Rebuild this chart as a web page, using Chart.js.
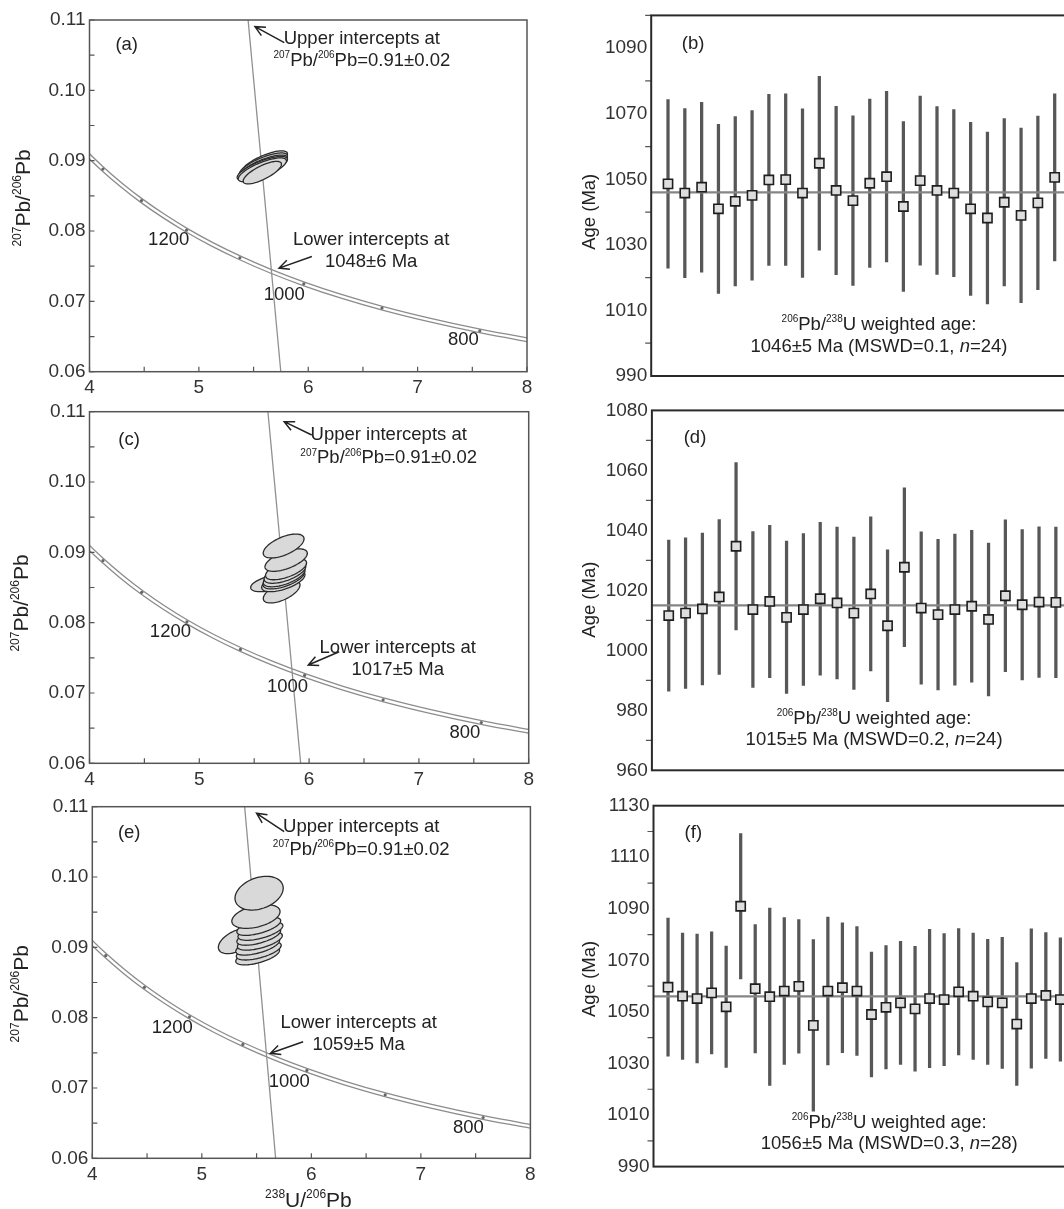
<!DOCTYPE html>
<html>
<head>
<meta charset="utf-8">
<script src="https://cdn.jsdelivr.net/npm/chart.js@4.4.1/dist/chart.umd.min.js"></script>
<style>
html, body { margin: 0; padding: 0; background: #fff; }
#wrap { position: relative; width: 1064px; height: 1209px; overflow: hidden; background: #fff; }
canvas { position: absolute; }
</style>
</head>
<body>
<div id="wrap">
<canvas id="pa" width="560" height="400" style="left:0;top:0"></canvas>
<canvas id="pc" width="560" height="400" style="left:0;top:390px"></canvas>
<canvas id="pe" width="560" height="424" style="left:0;top:785px"></canvas>
<canvas id="pb" width="620" height="400" style="left:540px;top:0"></canvas>
<canvas id="pd" width="620" height="400" style="left:540px;top:395px"></canvas>
<canvas id="pf" width="620" height="419" style="left:540px;top:790px"></canvas>
</div>
<script>
// concordia curve (Tera-Wasserburg), ages in Ma
var concAge = [1500, 1450, 1400, 1350, 1300, 1250, 1200, 1150, 1100, 1050, 1000, 950, 900, 850, 800, 750];
var concX = [3.8168, 3.9645, 4.1226, 4.2927, 4.4756, 4.6733, 4.8875, 5.1205, 5.3749, 5.6530, 5.9593, 6.2979, 6.6743, 7.0950, 7.5684, 8.1049];
var concY = [0.09360, 0.09116, 0.08881, 0.08653, 0.08432, 0.08219, 0.08012, 0.07812, 0.07619, 0.07431, 0.07250, 0.07074, 0.06904, 0.06740, 0.06580, 0.06425];

// discordia lines: x at 207/206 = 0.11 and at 0.06
var discY = [0.11, 0.06];
var discA = [5.450, 5.749];
var discC = [5.625, 5.923];
var discE = [5.391, 5.674];

// error ellipses: [238U/206Pb, 207Pb/206Pb, sx, sy, rho]
var ellA = [
    [5.60, 0.0897, 0.21, 0.0017, 0.75],
    [5.59, 0.0894, 0.22, 0.0017, 0.75],
    [5.59, 0.0891, 0.22, 0.0017, 0.75],
    [5.58, 0.0889, 0.23, 0.0017, 0.75],
    [5.58, 0.0887, 0.22, 0.0017, 0.75],
    [5.58, 0.0883, 0.175, 0.0016, 0.75]
];
var ellC = [
    [5.750, 0.0844, 0.167, 0.0016, 0.6],
    [5.647, 0.0856, 0.179, 0.0012, 0.5],
    [5.765, 0.0859, 0.197, 0.0015, 0.6],
    [5.770, 0.0863, 0.190, 0.0015, 0.6],
    [5.773, 0.0866, 0.190, 0.0015, 0.6],
    [5.780, 0.0871, 0.190, 0.0015, 0.6],
    [5.790, 0.0876, 0.187, 0.0015, 0.6],
    [5.791, 0.0889, 0.193, 0.0016, 0.6],
    [5.768, 0.0909, 0.186, 0.0017, 0.6]
];
var ellE = [
    [5.318, 0.0909, 0.167, 0.0018, 0.5],
    [5.510, 0.0888, 0.200, 0.0013, 0.6],
    [5.520, 0.0895, 0.205, 0.0013, 0.6],
    [5.510, 0.0902, 0.200, 0.0013, 0.6],
    [5.530, 0.0909, 0.205, 0.0013, 0.6],
    [5.520, 0.0916, 0.200, 0.0013, 0.6],
    [5.535, 0.0923, 0.205, 0.0013, 0.6],
    [5.520, 0.0930, 0.200, 0.0013, 0.6],
    [5.494, 0.0944, 0.220, 0.0017, 0.4],
    [5.523, 0.0977, 0.220, 0.0024, 0.3]
];

// 206Pb/238U ages (Ma) and 2s errors
var ageB = [1048.6, 1045.8, 1047.6, 1041.0, 1043.3, 1045.1, 1049.8, 1049.9, 1045.8, 1054.9, 1046.6, 1043.5,
            1048.8, 1050.8, 1041.7, 1049.6, 1046.6, 1045.8, 1041.0, 1038.2, 1043.0, 1039.0, 1042.8, 1050.6];
var errB = [25.7, 25.8, 25.9, 25.8, 25.8, 25.9, 26.1, 26.2, 25.7, 26.5, 25.7, 25.9,
            25.7, 26.0, 25.9, 25.8, 25.6, 25.5, 26.4, 26.2, 25.5, 26.6, 26.5, 25.5];
var meanB = 1046;

var ageD = [1011.6, 1012.4, 1013.8, 1017.8, 1034.7, 1013.6, 1016.3, 1011.0, 1013.6, 1017.2, 1015.8, 1012.4,
            1018.8, 1008.2, 1027.7, 1014.1, 1011.9, 1013.6, 1014.7, 1010.3, 1018.2, 1015.2, 1016.1, 1016.0];
var errD = [25.2, 25.1, 25.3, 25.8, 27.9, 26.0, 25.4, 25.4, 25.3, 25.5, 25.3, 25.4,
            25.7, 25.3, 26.5, 25.4, 25.1, 25.2, 25.3, 25.5, 25.3, 25.1, 25.1, 25.1];
var meanD = 1015;

var ageF = [1059.6, 1056.1, 1055.2, 1057.4, 1052.0, 1091.0, 1059.0, 1055.9, 1058.1, 1059.9, 1044.8, 1058.1, 1059.4, 1058.1,
            1049.0, 1051.8, 1053.5, 1051.2, 1055.2, 1054.8, 1057.8, 1056.1, 1053.9, 1053.5, 1045.3, 1055.2, 1056.4, 1054.8];
var errF = [26.8, 24.5, 25.0, 23.7, 23.5, 28.2, 24.9, 34.4, 28.5, 25.9, 33.3, 28.7, 25.2, 25.0,
            24.2, 23.9, 23.9, 24.2, 26.8, 25.6, 24.5, 24.5, 24.3, 25.4, 23.8, 27.0, 24.4, 23.9];
var meanF = 1056;

var FAM = '"Liberation Sans", Arial, Helvetica, sans-serif';
Chart.defaults.font.family = FAM;
Chart.defaults.color = '#333';

// "{..}" = superscript, "|..|" = italic
function splitRich(s) {
    var out = [], re = /\{([^}]*)\}|\|([^|]*)\||([^{|]+)/g, m;
    while ((m = re.exec(s))) {
        if (m[1] != null) out.push({t: m[1], sup: true});
        else if (m[2] != null) out.push({t: m[2], it: true});
        else out.push({t: m[3]});
    }
    return out;
}

function drawRich(ctx, s, x, y, size, sup) {
    var ps = splitRich(s), w = 0;
    function fnt(p) { return (p.it ? 'italic ' : '') + (p.sup ? sup : size) + 'px ' + FAM; }
    ps.forEach(function(p) { ctx.font = fnt(p); p.w = ctx.measureText(p.t).width; w += p.w; });
    var cx = x - w / 2;
    ctx.textAlign = 'left';
    ctx.textBaseline = 'middle';
    ps.forEach(function(p) {
        ctx.font = fnt(p);
        ctx.fillText(p.t, cx, p.sup ? y - size * 0.3 : y);
        cx += p.w;
    });
}

var decor = {
    id: 'decor',
    afterDatasetsDraw: function(chart, args, o) {
        if (!o.ellipses) return;
        var ctx = chart.ctx, ca = chart.chartArea, xs = chart.scales.x, ys = chart.scales.y;
        ctx.save();
        ctx.beginPath();
        ctx.rect(ca.left, ca.top, ca.right - ca.left, ca.bottom - ca.top);
        ctx.clip();
        o.ellipses.forEach(function(e) {
            var q = Math.sqrt(1 - e[4] * e[4]);
            ctx.beginPath();
            for (var k = 0; k <= 96; k++) {
                var t = k / 96 * 2 * Math.PI;
                var X = xs.getPixelForValue(e[0] + e[2] * Math.cos(t));
                var Y = ys.getPixelForValue(e[1] + e[3] * (e[4] * Math.cos(t) + q * Math.sin(t)));
                if (k === 0) ctx.moveTo(X, Y); else ctx.lineTo(X, Y);
            }
            ctx.closePath();
            ctx.fillStyle = '#d9d9d9';
            ctx.fill();
            ctx.lineWidth = 1.3;
            ctx.strokeStyle = '#2b2b2b';
            ctx.stroke();
        });
        ctx.restore();
    },
    afterDraw: function(chart, args, o) {
        var ctx = chart.ctx, ca = chart.chartArea, xs = chart.scales.x, ys = chart.scales.y;
        ctx.save();
        // tick marks
        ctx.strokeStyle = '#555';
        ctx.lineWidth = 1.2;
        ctx.beginPath();
        if (o.inward) {
            xs.ticks.forEach(function(t) {
                var X = xs.getPixelForValue(t.value);
                ctx.moveTo(X, ca.bottom); ctx.lineTo(X, ca.bottom - 5);
            });
            ys.ticks.forEach(function(t) {
                var Y = ys.getPixelForValue(t.value);
                ctx.moveTo(ca.left, Y); ctx.lineTo(ca.left + 5, Y);
            });
        } else {
            ys.ticks.forEach(function(t) {
                if (t.label !== '') return;
                var Y = ys.getPixelForValue(t.value);
                ctx.moveTo(ca.left - 6, Y); ctx.lineTo(ca.left, Y);
            });
        }
        ctx.stroke();
        // box
        ctx.strokeStyle = o.frameColor;
        ctx.lineWidth = o.frameWidth;
        ctx.strokeRect(ca.left, ca.top, ca.right - ca.left, ca.bottom - ca.top);
        // arrows
        ctx.strokeStyle = '#222';
        ctx.lineWidth = 1.5;
        (o.arrows || []).forEach(function(a) {
            var hx = xs.getPixelForValue(a[0]), hy = ys.getPixelForValue(a[1]);
            var tx = xs.getPixelForValue(a[2]), ty = ys.getPixelForValue(a[3]);
            var ang = Math.atan2(hy - ty, hx - tx);
            ctx.beginPath();
            ctx.moveTo(tx, ty); ctx.lineTo(hx, hy);
            ctx.moveTo(hx - 11 * Math.cos(ang - 0.45), hy - 11 * Math.sin(ang - 0.45));
            ctx.lineTo(hx, hy);
            ctx.lineTo(hx - 11 * Math.cos(ang + 0.45), hy - 11 * Math.sin(ang + 0.45));
            ctx.stroke();
        });
        // text
        ctx.fillStyle = '#222';
        (o.notes || []).forEach(function(n) {
            var X = xs.getPixelForValue(n.x), Y = ys.getPixelForValue(n.y);
            var size = n.size || o.textSize, sup = n.sup || 10;
            if (n.rot) {
                ctx.save();
                ctx.translate(X, Y);
                ctx.rotate(-Math.PI / 2);
                drawRich(ctx, n.s, 0, 0, size, sup);
                ctx.restore();
            } else {
                drawRich(ctx, n.s, X, Y, size, sup);
            }
        });
        ctx.restore();
    }
};
Chart.register(decor);

function concChart(id, pad, yW, xH, disc, ells, notes, arrows) {
    var pts = concX.map(function(x, i) { return {x: x, y: concY[i]}; });
    var marks = pts.filter(function(p, i) { return concAge[i] % 100 === 0; });
    return new Chart(document.getElementById(id), {
        type: 'scatter',
        data: {
            datasets: [
                {data: pts, showLine: true, borderColor: '#8c8c8c', borderWidth: 5, pointRadius: 0,
                 cubicInterpolationMode: 'monotone', order: 4},
                {data: pts, showLine: true, borderColor: '#ffffff', borderWidth: 2.4, pointRadius: 0,
                 cubicInterpolationMode: 'monotone', order: 3},
                {data: marks, pointRadius: 1.6, backgroundColor: '#666', borderWidth: 0, order: 2},
                {data: [{x: disc[0], y: discY[0]}, {x: disc[1], y: discY[1]}], showLine: true,
                 borderColor: '#909090', borderWidth: 1.3, pointRadius: 0, order: 1}
            ]
        },
        options: {
            responsive: false,
            animation: false,
            layout: {padding: pad},
            plugins: {
                legend: {display: false},
                tooltip: {enabled: false},
                decor: {ellipses: ells, notes: notes, arrows: arrows, inward: true,
                        frameColor: '#555', frameWidth: 1.5, textSize: 18.5}
            },
            scales: {
                x: {
                    type: 'linear', min: 4, max: 8,
                    grid: {display: false, drawTicks: false},
                    border: {display: false},
                    ticks: {stepSize: 0.5, autoSkip: false, maxRotation: 0, padding: 5, font: {size: 19},
                            callback: function(v) { return v % 1 === 0 ? String(v) : ''; }},
                    afterFit: function(s) { s.height = xH; }
                },
                y: {
                    min: 0.06, max: 0.11,
                    grid: {display: false, drawTicks: false},
                    border: {display: false},
                    ticks: {stepSize: 0.005, autoSkip: false, padding: 4, font: {size: 19},
                            callback: function(v) {
                                var k = Math.round(v * 1000);
                                return k % 10 === 0 ? (k / 1000).toFixed(2) : '';
                            }},
                    afterFit: function(s) { s.width = yW; }
                }
            }
        }
    });
}

function ageChart(id, ages, errs, mean, ymin, ymax, pad, yW, notes) {
    var n = ages.length;
    return new Chart(document.getElementById(id), {
        type: 'scatter',
        data: {
            datasets: [
                {type: 'scatter', data: ages.map(function(a, i) { return {x: i + 1, y: a}; }),
                 pointStyle: 'rect', pointRadius: 6.5, backgroundColor: '#dedede',
                 borderColor: '#1e1e1e', borderWidth: 1.6, order: 0},
                {type: 'line', data: [{x: 0, y: mean}, {x: n + 1, y: mean}],
                 borderColor: '#858585', borderWidth: 2.2, pointRadius: 0, order: 1},
                {type: 'bar', data: ages.map(function(a, i) { return {x: i + 1, y: [a - errs[i], a + errs[i]]}; }),
                 backgroundColor: '#575757', barThickness: 2.6, order: 2}
            ]
        },
        options: {
            responsive: false,
            animation: false,
            layout: {padding: pad},
            plugins: {
                legend: {display: false},
                tooltip: {enabled: false},
                decor: {notes: notes, inward: false, frameColor: '#2a2a2a', frameWidth: 2, textSize: 18.5}
            },
            scales: {
                x: {type: 'linear', min: 0, max: n + 1, display: false, offset: false},
                y: {
                    min: ymin, max: ymax,
                    grid: {display: false, drawTicks: false},
                    border: {display: false},
                    ticks: {stepSize: 10, autoSkip: false, padding: 4, font: {size: 19},
                            callback: function(v) { return (v - ymin) % 20 === 0 ? String(v) : ''; }},
                    afterFit: function(s) { s.width = yW; }
                }
            }
        }
    });
}

var ytitle = '{207}Pb/{206}Pb';

concChart('pa', {top: 20, right: 33, left: 0, bottom: 0}, 89.5, 28.3, discA, ellA, [
    {x: 4.34, y: 0.10645, s: '(a)'},
    {x: 6.49, y: 0.10726, s: 'Upper intercepts at'},
    {x: 6.49, y: 0.10418, s: '{207}Pb/{206}Pb=0.91±0.02'},
    {x: 6.575, y: 0.07875, s: 'Lower intercepts at'},
    {x: 6.575, y: 0.07563, s: '1048±6 Ma'},
    {x: 4.724, y: 0.07875, s: '1200'},
    {x: 5.781, y: 0.07094, s: '1000'},
    {x: 7.419, y: 0.06455, s: '800'},
    {x: 3.402, y: 0.0847, s: ytitle, rot: true, size: 21, sup: 12}
], [[5.513, 0.10905, 5.781, 0.10678], [5.733, 0.07473, 6.033, 0.07638]]);

concChart('pc', {top: 21.7, right: 31.3, left: 0, bottom: 0}, 89.5, 26.7, discC, ellC, [
    {x: 4.36, y: 0.10598, s: '(c)'},
    {x: 6.725, y: 0.10669, s: 'Upper intercepts at'},
    {x: 6.725, y: 0.10337, s: '{207}Pb/{206}Pb=0.91±0.02'},
    {x: 6.807, y: 0.07636, s: 'Lower intercepts at'},
    {x: 6.807, y: 0.07327, s: '1017±5 Ma'},
    {x: 4.737, y: 0.07871, s: '1200'},
    {x: 5.803, y: 0.07089, s: '1000'},
    {x: 7.419, y: 0.06427, s: '800'},
    {x: 3.389, y: 0.0828, s: ytitle, rot: true, size: 21, sup: 12}
], [[5.773, 0.10858, 6.024, 0.10669], [5.992, 0.07398, 6.274, 0.07587]]);

concChart('pe', {top: 21.7, right: 29.6, left: 0, bottom: 0}, 92.3, 50.7, discE, ellE, [
    {x: 4.337, y: 0.10622, s: '(e)'},
    {x: 6.455, y: 0.10716, s: 'Upper intercepts at'},
    {x: 6.455, y: 0.10384, s: '{207}Pb/{206}Pb=0.91±0.02'},
    {x: 6.432, y: 0.0792, s: 'Lower intercepts at'},
    {x: 6.432, y: 0.07611, s: '1059±5 Ma'},
    {x: 4.730, y: 0.07849, s: '1200'},
    {x: 5.799, y: 0.07089, s: '1000'},
    {x: 7.434, y: 0.06427, s: '800'},
    {x: 3.362, y: 0.0834, s: ytitle, rot: true, size: 21, sup: 12},
    {x: 5.973, y: 0.0539, s: '{238}U/{206}Pb', size: 21, sup: 12}
], [[5.5, 0.10906, 5.752, 0.10644], [5.626, 0.07493, 5.925, 0.07658]]);

ageChart('pb', ageB, errB, meanB, 990, 1100, {top: 13.4, right: 88.5, left: 0, bottom: 24}, 111.2, [
    {x: 2.49, y: 1091.2, s: '(b)'},
    {x: 13.55, y: 1005.5, s: '{206}Pb/{238}U weighted age:'},
    {x: 13.55, y: 998.8, s: '1046±5 Ma (MSWD=0.1, |n|=24)'},
    {x: -3.64, y: 1040.1, s: 'Age (Ma)', rot: true}
]);

ageChart('pd', ageD, errD, meanD, 960, 1080, {top: 14, right: 87.3, left: 0, bottom: 24.7}, 111.9, [
    {x: 2.56, y: 1070.8, s: '(d)'},
    {x: 13.2, y: 977.3, s: '{206}Pb/{238}U weighted age:'},
    {x: 13.2, y: 970.3, s: '1015±5 Ma (MSWD=0.2, |n|=24)'},
    {x: -3.68, y: 1016.9, s: 'Age (Ma)', rot: true}
]);

ageChart('pf', ageF, errF, meanF, 990, 1130, {top: 15.7, right: 85.1, left: 0, bottom: 42.4}, 113.5, [
    {x: 2.74, y: 1119.3, s: '(f)'},
    {x: 16.22, y: 1007.0, s: '{206}Pb/{238}U weighted age:'},
    {x: 16.22, y: 998.9, s: '1056±5 Ma (MSWD=0.3, |n|=28)'},
    {x: -4.37, y: 1062.8, s: 'Age (Ma)', rot: true}
]);
</script>
</body>
</html>
